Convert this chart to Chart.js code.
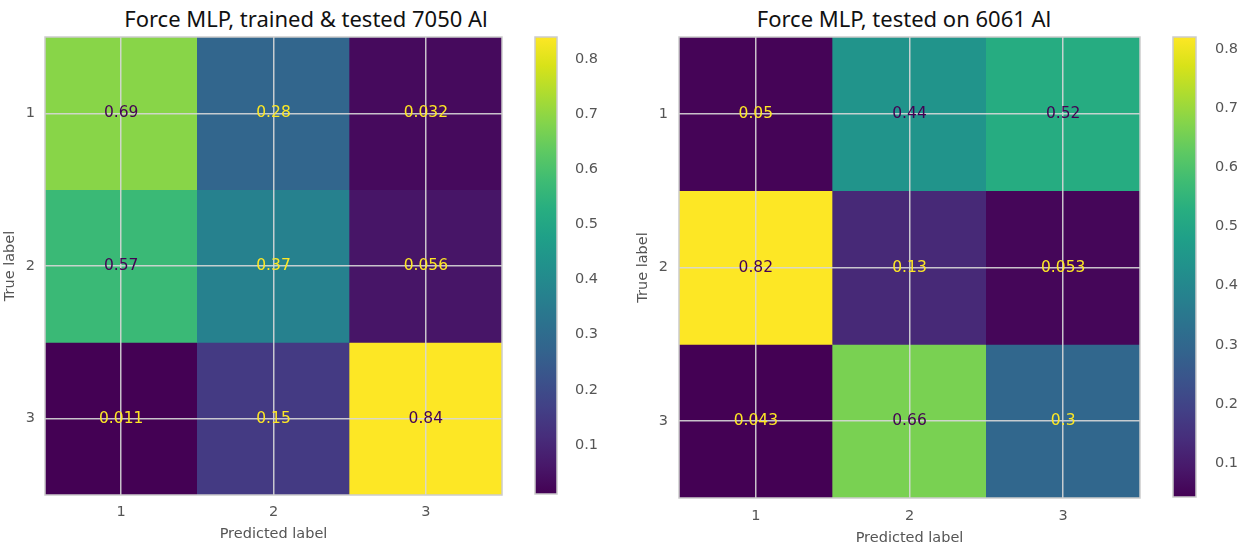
<!DOCTYPE html>
<html>
<head>
<meta charset="utf-8">
<script src="https://cdn.jsdelivr.net/npm/chart.js@4.4.1/dist/chart.umd.min.js"></script>
<style>
  body { margin: 0; background: #fff; width: 1242px; height: 548px; overflow: hidden; position: relative; }
  .box { position: absolute; top: 0; height: 548px; }
  .title { position: absolute; top: 3px; font-family: "Noto Sans"; font-size: 22px; line-height: 30px;
           color: #111; white-space: nowrap; transform: translateX(-50%); }
</style>
</head>
<body>
<div class="title" style="left:306px">Force MLP, trained &amp; tested 7050 Al</div>
<div class="title" style="left:904px">Force MLP, tested on 6061 Al</div>
<div class="box" style="left:0;width:504px"><canvas id="cm1"></canvas></div>
<div class="box" style="left:530px;width:70px"><canvas id="cb1"></canvas></div>
<div class="box" style="left:620px;width:522px"><canvas id="cm2"></canvas></div>
<div class="box" style="left:1168px;width:74px"><canvas id="cb2"></canvas></div>
<script>
// class labels (true = rows, predicted = columns)
const classLabels = ['1', '2', '3'];
// normalised confusion matrices
const cmTrained = [
    [0.69, 0.28, 0.032],
    [0.57, 0.37, 0.056],
    [0.011, 0.15, 0.84]
];
const cmTested = [
    [0.05, 0.44, 0.52],
    [0.82, 0.13, 0.053],
    [0.043, 0.66, 0.3]
];
// colorbar tick values
const cbarTicks = [0.1, 0.2, 0.3, 0.4, 0.5, 0.6, 0.7, 0.8];

// matplotlib viridis, sampled
const viridisStops = ['#440154', '#48186a', '#472d7b', '#424086', '#3b528b', '#33638d', '#2c728e', '#26828e',
    '#21918c', '#1fa088', '#28ae80', '#3fbc73', '#5ec962', '#84d44b', '#addc30', '#d8e219', '#fde725'];

function hexRgb(h) {
    return [1, 3, 5].map(i => parseInt(h.substr(i, 2), 16));
}
function viridis(t) {
    t = Math.max(0, Math.min(1, t));
    const n = viridisStops.length - 1;
    const i = Math.min(Math.floor(t * n), n - 1);
    const f = t * n - i;
    const a = hexRgb(viridisStops[i]), b = hexRgb(viridisStops[i + 1]);
    const c = a.map((v, k) => Math.round(v + (b[k] - v) * f));
    return 'rgb(' + c.join(',') + ')';
}
// like python's '.2g'
function fmt(v) {
    return parseFloat(v.toPrecision(2)).toString();
}

const axisFont = { family: 'DejaVu Sans', size: 14.5 };
const axisColor = '#555';
const gridColor = 'rgba(215,215,215,0.9)';

// frame round the plot area, then the cell values on top of the grid
const frame = {
    id: 'frame',
    afterDraw(chart, args, opts) {
        const a = chart.chartArea;
        const ctx = chart.ctx;
        ctx.save();
        ctx.strokeStyle = '#cccccc';
        ctx.lineWidth = 1.5;
        ctx.strokeRect(a.left, a.top, a.right - a.left, a.bottom - a.top);
        if (opts.cells) {
            ctx.font = '15.5px "DejaVu Sans"';
            ctx.textAlign = 'center';
            ctx.textBaseline = 'middle';
            chart.data.datasets.forEach((ds, r) => {
                chart.getDatasetMeta(r).data.forEach((bar, c) => {
                    const v = ds.values[c];
                    // same rule as sklearn: light text on dark cells
                    ctx.fillStyle = v < opts.thresh ? viridis(1) : viridis(0);
                    ctx.fillText(fmt(v), bar.x, (bar.y + bar.base) / 2);
                });
            });
        }
        ctx.restore();
    }
};

function makeMatrix(id, cm, o) {
    const flat = cm.flat();
    const lo = Math.min(...flat), hi = Math.max(...flat);
    const datasets = cm.map((row, r) => ({
        label: 'True ' + classLabels[r],
        data: row.map(() => [r + 0.5, r + 1.5]),
        values: row,
        backgroundColor: row.map(v => viridis((v - lo) / (hi - lo))),
        borderWidth: 0,
        barPercentage: 1,
        categoryPercentage: 1,
        grouped: false
    }));
    return new Chart(document.getElementById(id), {
        type: 'bar',
        data: { labels: classLabels, datasets: datasets },
        plugins: [frame],
        options: {
            responsive: true,
            maintainAspectRatio: false,
            animation: false,
            layout: { padding: { top: 37, right: 2, left: 0, bottom: 0 } },
            plugins: {
                legend: { display: false },
                tooltip: { enabled: false },
                frame: { cells: true, thresh: (lo + hi) / 2 }
            },
            scales: {
                x: {
                    offset: true,
                    grid: { z: 1, color: gridColor, lineWidth: 1.5, drawTicks: false, offset: false },
                    border: { display: false },
                    ticks: { color: axisColor, font: axisFont, padding: o.xPad },
                    title: { display: true, text: 'Predicted label', color: axisColor, font: axisFont,
                             padding: { top: 0, bottom: o.xTitlePad } },
                    afterFit(s) { s.height = o.xh; }
                },
                y: {
                    type: 'linear',
                    min: 0.5,
                    max: 3.5,
                    reverse: true,
                    afterBuildTicks(s) { s.ticks = classLabels.map((l, i) => ({ value: i + 1 })); },
                    grid: { z: 1, color: gridColor, lineWidth: 1.5, drawTicks: false },
                    border: { display: false },
                    ticks: { color: axisColor, font: axisFont, padding: o.yPad,
                             callback: v => classLabels[v - 1] },
                    title: { display: true, text: 'True label', color: axisColor, font: axisFont,
                             padding: { top: o.yTitlePad, bottom: 0 } },
                    afterFit(s) { s.width = o.yw; }
                }
            }
        }
    });
}

function makeColorbar(id, cm, o) {
    const flat = cm.flat();
    const lo = Math.min(...flat), hi = Math.max(...flat);
    return new Chart(document.getElementById(id), {
        type: 'bar',
        data: {
            labels: [''],
            datasets: [{
                data: [[lo, hi]],
                borderWidth: 0,
                barPercentage: 1,
                categoryPercentage: 1,
                backgroundColor(ctx) {
                    const a = ctx.chart.chartArea;
                    if (!a) return viridis(0);
                    const g = ctx.chart.ctx.createLinearGradient(0, a.bottom, 0, a.top);
                    viridisStops.forEach((c, i) => g.addColorStop(i / (viridisStops.length - 1), c));
                    return g;
                }
            }]
        },
        plugins: [frame],
        options: {
            responsive: true,
            maintainAspectRatio: false,
            animation: false,
            layout: { padding: { top: 37, bottom: o.bottom, left: 5, right: 0 } },
            plugins: { legend: { display: false }, tooltip: { enabled: false }, frame: { cells: false } },
            scales: {
                x: { display: false },
                y: {
                    position: 'right',
                    min: lo,
                    max: hi,
                    afterBuildTicks(s) { s.ticks = cbarTicks.filter(v => v > lo && v < hi).map(v => ({ value: v })); },
                    grid: { display: false },
                    border: { display: false },
                    ticks: { color: axisColor, font: axisFont, padding: o.pad, callback: v => v.toFixed(1) },
                    afterFit(s) { s.width = o.w; }
                }
            }
        }
    });
}

makeMatrix('cm1', cmTrained, { xh: 53, yw: 45, xPad: 9, xTitlePad: 5, yPad: 10, yTitlePad: 2 });
makeColorbar('cb1', cmTrained, { bottom: 54, w: 43, pad: 10 });
makeMatrix('cm2', cmTested, { xh: 50, yw: 59, xPad: 10, xTitlePad: 1, yPad: 11, yTitlePad: 15 });
makeColorbar('cb2', cmTested, { bottom: 51, w: 46, pad: 11 });
</script>
</body>
</html>
